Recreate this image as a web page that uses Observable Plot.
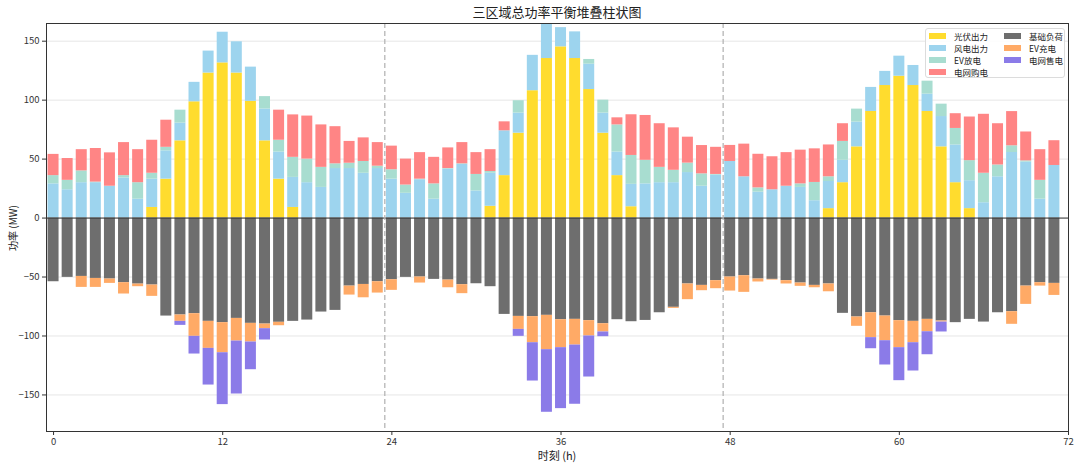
<!DOCTYPE html>
<html>
<head>
<meta charset="utf-8">
<script src="https://cdn.jsdelivr.net/npm/d3@7"></script>
<script src="https://cdn.jsdelivr.net/npm/@observablehq/plot@0.6"></script>
<style>
  html, body { margin: 0; padding: 0; background: #fff; }
  #wrap { position: relative; width: 1080px; height: 467px; font-family: "Noto Sans CJK SC", "Noto Sans", sans-serif; color: #222; }
  #wrap svg { position: absolute; left: 0; top: 0; }
  .lbl { position: absolute; white-space: nowrap; }
  #title { left: 46px; width: 1022px; top: 3px; text-align: center; font-size: 13px; line-height: 18px; }
  #xlabel { left: 46px; width: 1022px; top: 449px; text-align: center; font-size: 11px; line-height: 12px; }
  #ylabel { left: 12.5px; top: 228px; font-size: 10px; line-height: 12px; transform: translate(-50%, -50%) rotate(-90deg); }
  #legend { position: absolute; left: 925px; top: 28px; width: 138px; height: 48px; border: 1px solid #dcdcdc; border-radius: 3px; background: rgba(255,255,255,0.85); }
  .item { position: absolute; font-size: 8.5px; line-height: 10px; display: flex; align-items: center; }
  .sw { width: 17px; height: 6px; margin-right: 8px; display: inline-block; }
</style>
</head>
<body>
<div id="wrap">
  <div id="chart"></div>
  <div class="lbl" id="title">三区域总功率平衡堆叠柱状图</div>
  <div class="lbl" id="xlabel">时刻 (h)</div>
  <div class="lbl" id="ylabel">功率 (MW)</div>
  <div id="legend"></div>
</div>
<script>
// ---- data ----
const hours = d3.range(72);
const xTicks = [0, 12, 24, 36, 48, 60, 72];
const yTicks = [-150, -100, -50, 0, 50, 100, 150];
const dayDividers = [23.5, 47.5];

// supply (positive, MW)
const pv = [0,0,0,0,0,0,0,9,33,65.5,98.6,123,131.6,123,99,65.5,33,9,0,0,0,0,0,0,
            0,0,0,0,0,0,0,10,36,72,108,135.3,145.2,135.3,109,72,36,9.6,0,0,0,0,0,0,
            0,0,0,0,0,0,0,8,30,60.4,90.4,112.4,120.3,112.4,90.4,60.4,30,8,0,0,0,0,0,0];
const wind = [29,24,30,30,27,34,16,24,24,15,16.5,18.6,26,26.5,29,27,23,25.5,30,26,42,42,38,42,
              33,21,32.5,16,41.5,45.5,23,28,38,17,30,29.4,16.3,22.6,21.5,17,20,19,29,30,30,38.6,27,36.5,
              48,35,22,24,27,26,14.7,23,19,21,20.4,12,17,17,14.7,25.7,32,23.7,13,35,55.6,47.5,16,44.6];
const evDischarge = [7,8,10,0.5,0,2,14,5,3,11,0,0,0,0,0,10.5,10,17,20,17,4,4.5,10,2,
                     8,7,0.5,13,0.5,0.5,14,1.5,0,10.5,0,0,0,0,4,11,23,24.5,20,13,10.5,8,10.5,0.5,
                     0,0,3.6,0,0,3,15.5,4,16,11,0,0,0,0,11,10.5,14,17,25,10,5.7,1,16,0];
const gridBuy = [18,18.5,18,28.5,28.3,28,28,28,23,0,0,0,0,0,0,0,25.5,36,36.5,36,31.5,18.5,20,20,
                 20,22,22.5,22.5,17.5,18,18.5,18.5,7.6,0,0,0,0,0,0,0,6,34.5,38,37,36,22,24,23,
                 13.6,27.7,28.5,28,28.5,28.6,28.5,27,15,0,0,0,0,0,0,0,12.5,37,50,35,29,24.5,26,21];
// demand (magnitudes, MW, drawn downward)
const baseLoad = [54,50.3,49.5,51.2,51.7,54.8,56,56.8,83.1,82.2,81.1,87.6,88.7,85.1,89.3,89.9,88.4,87.6,86.5,79.7,78.3,57.7,56.3,54,
                  52.3,50.3,50,52,52.6,56.5,55.7,58.2,81.7,83.4,83.6,82.5,86.2,85.9,87,89.6,86.2,87.9,86.8,80.3,75.7,55.9,57.1,53.1,
                  50,48.9,51.7,52,53.1,55.1,57.1,55.9,80.8,83.9,80.3,83.1,87,87.6,85.9,87.3,88.7,85.9,88.2,80.3,79.4,57.7,54.8,55.4];
const evCharge = [0,0,9.3,7.6,3.7,9.6,2.2,9.6,0,5.4,19.2,22.9,25.5,19.2,15.8,3.9,2.9,0,0,0,0,7.6,11.3,9.6,
                  9,0,5.1,0,6.5,7.6,0,0,0,11,22.1,29.1,23.7,21.8,13,7,0,0,0,0,0.9,13.3,4.5,6.8,
                  11.9,14.1,2.5,0.6,2.8,2.8,2,6.6,0,7.9,21.1,20.9,22.9,18.1,10.5,0.9,0,0,0,0,10.7,15.5,2.9,10.2];
const gridSell = [0,0,0,0,0,0,0,0,0,3.4,15,31.1,44,44.9,23.5,9.6,0,0,0,0,0,0,0,0,
                  0,0,0,0,0,0,0,0,0,5.9,32.5,53.1,51.7,50.2,34.8,4,0,0,0,0,0,0,0,0,
                  0,0,0,0,0,0,0,0,0,0,9.4,20.6,28,24,19.5,8.4,0,0,0,0,0,0,0,0];

const seriesNames = ["光伏出力", "风电出力", "EV放电", "电网购电", "基础负荷", "EV充电", "电网售电"];
const seriesValues = [pv, wind, evDischarge, gridBuy, baseLoad, evCharge, gridSell];
const seriesSign = [1, 1, 1, 1, -1, -1, -1];
const seriesColors = ["#FFDC2E", "#9DD4EE", "#A8DDD0", "#FF8585", "#6E6E6E", "#FFAA66", "#8B7BE8"];

// long table for Plot (series-major so stacking follows legend order)
const rows = [];
seriesNames.forEach((name, s) => {
  hours.forEach((h, i) => rows.push({hour: h, series: name, value: seriesSign[s] * seriesValues[s][i]}));
});

const chart = Plot.plot({
  width: 1080,
  height: 467,
  marginTop: 23,
  marginBottom: 36,
  marginLeft: 46,
  marginRight: 12,
  style: {fontFamily: "'Noto Sans CJK SC', 'Noto Sans', sans-serif", fontSize: "9.5px", color: "#333", background: "transparent", overflow: "visible"},
  x: {domain: [-0.5, 72], ticks: xTicks, tickSize: 4, tickPadding: 3, label: null},
  y: {domain: [-181, 165], ticks: yTicks, tickSize: 4, tickPadding: 3, label: null},
  color: {domain: seriesNames, range: seriesColors},
  marks: [
    Plot.gridY(yTicks, {stroke: "#e6e6e6", strokeOpacity: 1}),
    Plot.rect(rows, Plot.stackY({
      x: "hour",
      x1: d => d.hour - 0.39,
      x2: d => d.hour + 0.39,
      y: "value",
      fill: "series",
      order: null
    })),
    Plot.ruleY([0], {stroke: "#333", strokeWidth: 1}),
    Plot.ruleX(dayDividers, {stroke: "#b0b0b0", strokeWidth: 1.2, strokeDasharray: "5,3"}),
    Plot.frame({stroke: "#333", strokeWidth: 1})
  ]
});
document.getElementById("chart").appendChild(chart);

// legend (two columns, matplotlib-like)
const legend = document.getElementById("legend");
const colX = [3, 78];
const rowY = [6.5, 18.5, 30.5, 42.5];
seriesNames.forEach((name, s) => {
  const col = s < 4 ? 0 : 1;
  const row = s < 4 ? s : s - 4;
  const it = document.createElement("div");
  it.className = "item";
  it.style.left = colX[col] + "px";
  it.style.top = (rowY[row] - 5) + "px";
  it.innerHTML = `<span class="sw" style="background:${seriesColors[s]}"></span><span>${name}</span>`;
  legend.appendChild(it);
});
</script>
</body>
</html>
